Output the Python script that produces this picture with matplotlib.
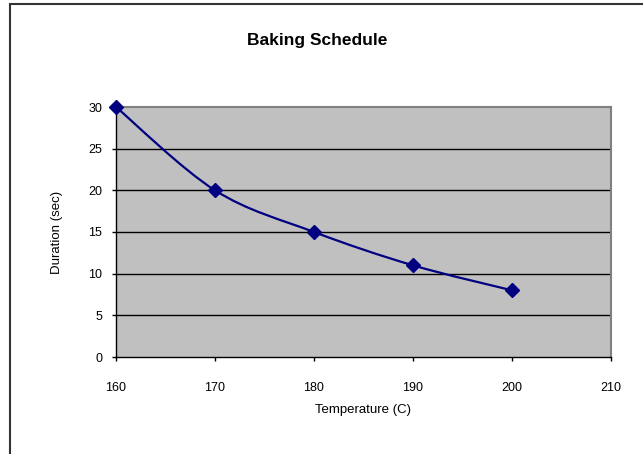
import matplotlib.pyplot as plt
import numpy as np
from matplotlib.path import Path
from matplotlib.patches import PathPatch, Rectangle

plt.rcParams['font.family'] = ['Liberation Sans', 'DejaVu Sans']

# data
temperature = [160, 170, 180, 190, 200]
duration = [30, 20, 15, 11, 8]
x_ticks = [160, 170, 180, 190, 200, 210]
y_ticks = [0, 5, 10, 15, 20, 25, 30]


def smooth_path(xs, ys):
    '''Bezier path through the points, like Excel's smoothed line'''
    pts = np.column_stack([xs, ys]).astype(float)
    n = len(pts)
    verts = [pts[0]]
    codes = [Path.MOVETO]
    for i in range(n - 1):
        p0 = pts[max(i - 1, 0)]
        p1 = pts[i]
        p2 = pts[i + 1]
        p3 = pts[min(i + 2, n - 1)]
        c1 = p1 + (p2 - p0) / 6.0
        c2 = p2 - (p3 - p1) / 6.0
        verts += [c1, c2, p2]
        codes += [Path.CURVE4] * 3
    return Path(verts, codes)


fig = plt.figure(figsize=(6.43, 4.54), dpi=100)
ax = fig.add_axes([116 / 643, 1 - 357 / 454, 495 / 643, 250 / 454])

# outer chart border
fig.patches.append(Rectangle((10 / 643, -0.1), 1.2, 1 - 4 / 454 + 0.1,
                             transform=fig.transFigure, fill=False,
                             edgecolor='#333333', linewidth=1.5))

ax.set_facecolor('#C0C0C0')
ax.set_xlim(160, 210)
ax.set_ylim(0, 30)
ax.set_xticks(x_ticks)
ax.set_yticks(y_ticks)
for y in y_ticks[1:-1]:
    ax.axhline(y, color='black', linewidth=1, zorder=1)

# smoothed line + diamond markers
ax.add_patch(PathPatch(smooth_path(temperature, duration), fill=False,
                       edgecolor='#000080', linewidth=1.6, zorder=3))
ax.plot(temperature, duration, linestyle='none', marker='D', markersize=7,
        color='#000080', zorder=4, clip_on=False)

for side in ['top', 'right']:
    ax.spines[side].set_color('#808080')
    ax.spines[side].set_linewidth(1.5)
for side in ['left', 'bottom']:
    ax.spines[side].set_color('black')
    ax.spines[side].set_linewidth(1)

ax.tick_params(axis='x', direction='out', length=3, width=1, pad=15, labelsize=9)
ax.tick_params(axis='y', direction='out', length=3, width=1, pad=7, labelsize=9)

ax.set_xlabel('Temperature (C)', fontsize=9.5, labelpad=7)
ax.set_ylabel('Duration (sec)', fontsize=9.5, labelpad=18)
fig.text(317 / 643, 1 - 40 / 454, 'Baking Schedule', fontsize=12.5,
         fontweight='bold', ha='center', va='center')

fig.savefig('out.png', dpi=100)
